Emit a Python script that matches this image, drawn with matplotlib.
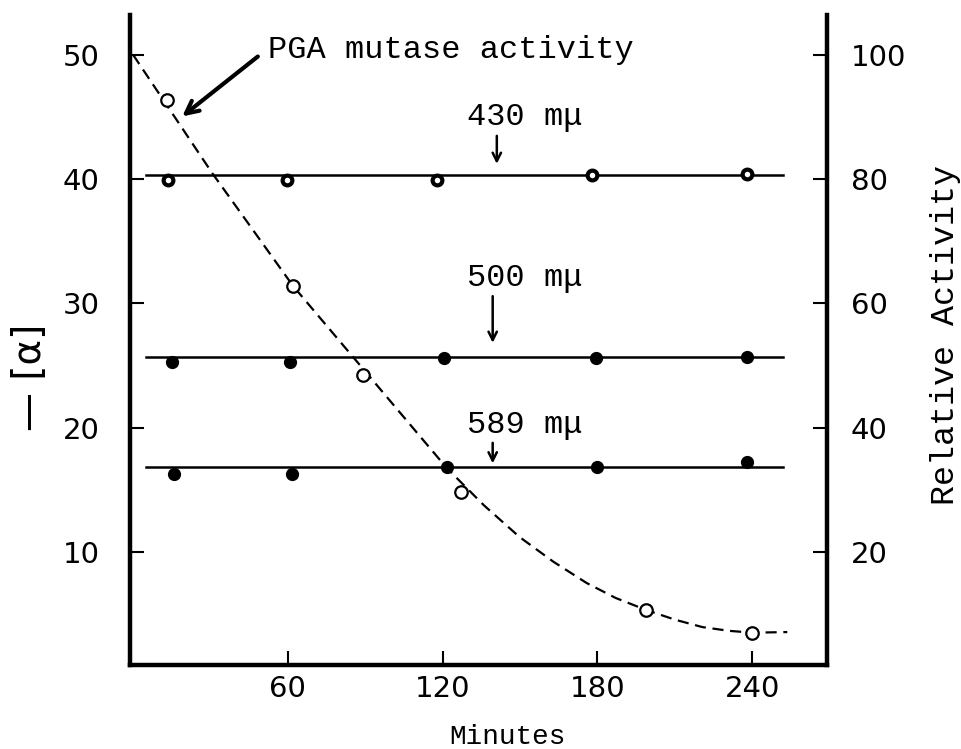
import matplotlib
matplotlib.use("Agg")
from matplotlib import pyplot as plt

plt.rcParams['font.family'] = ['DejaVu Sans']
mono = ['Liberation Mono', 'DejaVu Sans Mono']

# -[alpha] readings at three wavelengths (left axis)
minutes_430 = [13.5, 59.6, 118, 178, 238]
rot_430 = [39.9, 39.9, 39.9, 40.3, 40.4]
minutes_500 = [15, 60.8, 120.4, 179.6, 238]
rot_500 = [25.3, 25.3, 25.6, 25.6, 25.7]
minutes_589 = [16, 61.5, 121.6, 180, 238]
rot_589 = [16.3, 16.3, 16.8, 16.85, 17.25]

# drawn level lines
line_span = [5, 252]
level_430 = 40.3
level_500 = 25.7
level_589 = 16.8

# PGA mutase, relative activity (right axis)
pga_minutes = [13, 62, 89, 127, 199, 240]
pga_activity = [92.8, 62.8, 48.5, 29.7, 10.7, 7.0]
# dashed curve as drawn through them
curve_minutes = [0, 30.6, 62, 85.2, 121.6, 136, 149.8, 163, 175.8, 187, 198.6, 210, 220.7, 231, 240, 253.6]
curve_activity = [100, 81.0, 62.8, 51.4, 33.5, 27.5, 22.4, 18.4, 15.0, 12.6, 10.7, 9.1, 7.9, 7.3, 7.0, 7.1]

x_ticks = [60, 120, 180, 240]
left_ticks = [10, 20, 30, 40, 50]
right_ticks = [20, 40, 60, 80, 100]

fig = plt.figure(figsize=(9.62, 7.49), dpi=100)
ax = fig.add_axes([130 / 962, 1 - 665 / 749, 697 / 962, 650 / 749])
ax2 = ax.twinx()

ax.set_xlim(-1.2, 269)
ax.set_ylim(0.9, 53.2)
ax2.set_ylim(1.8, 106.4)

# level lines and points
for lev in [level_430, level_500, level_589]:
    ax.plot(line_span, [lev, lev], color='black', lw=1.8)
ax.plot(minutes_430, rot_430, 'o', ms=7, mfc='white', mec='black', mew=3, ls='none')
ax.plot(minutes_500, rot_500, 'o', ms=8.5, color='black', ls='none')
ax.plot(minutes_589, rot_589, 'o', ms=8.5, color='black', ls='none')

# PGA mutase curve
ax2.plot(curve_minutes, curve_activity, color='black', lw=1.6, ls=(0, (5, 3)))
ax2.plot(pga_minutes, pga_activity, 'o', ms=9, mfc='white', mec='black', mew=1.6, ls='none')

# spines
for s in ['top', 'right']:
    ax.spines[s].set_visible(False)
for s in ['top', 'left', 'bottom']:
    ax2.spines[s].set_visible(False)
ax.spines['left'].set_linewidth(3.2)
ax.spines['bottom'].set_linewidth(3.2)
ax2.spines['right'].set_linewidth(3.2)

ax.set_xticks(x_ticks)
ax.set_yticks(left_ticks)
ax2.set_yticks(right_ticks)
ax.tick_params(axis='x', direction='in', length=10, width=1.5, pad=7, labelsize=21)
ax.tick_params(axis='y', direction='in', length=10, width=1.5, pad=22, labelsize=21)
ax2.tick_params(axis='y', direction='in', length=10, width=1.5, pad=17, labelsize=21)

# annotations
ax.annotate('', xy=(18.2, 44.9), xytext=(49.2, 50.0),
            arrowprops=dict(arrowstyle='->,head_length=0.9,head_width=0.45', lw=3, color='black'))
ax.text(52.3, 50.4, 'PGA mutase activity', ha='left', va='center', fontsize=23, family=mono)

ax.text(129.3, 45.0, '430 mμ', ha='left', va='center', fontsize=23, family=mono)
ax.annotate('', xy=(141, 41.0), xytext=(141, 43.7),
            arrowprops=dict(arrowstyle='->,head_length=0.6,head_width=0.3', lw=1.8, color='black'))
ax.text(129.3, 32.05, '500 mμ', ha='left', va='center', fontsize=23, family=mono)
ax.annotate('', xy=(139.4, 26.6), xytext=(139.4, 30.8),
            arrowprops=dict(arrowstyle='->,head_length=0.6,head_width=0.3', lw=1.8, color='black'))
ax.text(129.3, 20.2, '589 mμ', ha='left', va='center', fontsize=23, family=mono)
ax.annotate('', xy=(139.4, 16.9), xytext=(139.4, 19.0),
            arrowprops=dict(arrowstyle='->,head_length=0.6,head_width=0.3', lw=1.8, color='black'))

# axis titles
fig.text(507 / 962, 1 - 737 / 749, 'Minutes', ha='center', va='center', fontsize=20, family=mono)
fig.text(946 / 962, 1 - 335 / 749, 'Relative Activity', ha='center', va='center',
         rotation=90, fontsize=24, family=mono)
fig.text(30 / 962, 1 - 377 / 749, '— [α]', ha='center', va='center', rotation=90, fontsize=28)

fig.savefig('out.png', dpi=100)
